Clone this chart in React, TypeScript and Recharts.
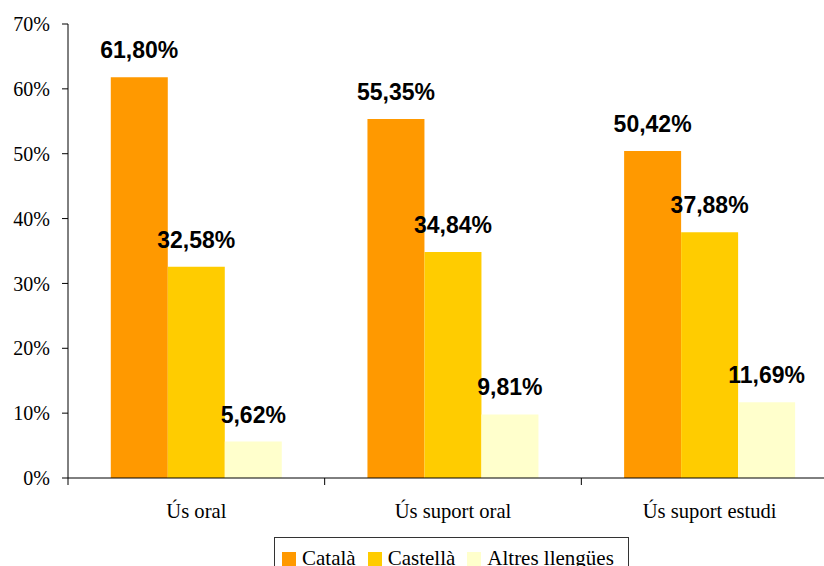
import React from 'react';
import { BarChart, Bar, XAxis, YAxis, LabelList, Legend } from 'recharts';

const categories = ['Ús oral', 'Ús suport oral', 'Ús suport estudi'];
const catala = [61.8, 55.35, 50.42];
const castella = [32.58, 34.84, 37.88];
const altres = [5.62, 9.81, 11.69];
const yTicks = [0, 10, 20, 30, 40, 50, 60, 70];
const seriesNames = ['Català', 'Castellà', 'Altres llengües'];
const seriesColors = ['#FF9900', '#FFCC00', '#FFFFCC'];

const data = categories.map((c, i) => ({
  name: c,
  catala: catala[i],
  castella: castella[i],
  altres: altres[i],
}));

const CHART_W = 838;
const CHART_H = 566;
const Y_AXIS_W = 68;
const BAND = (CHART_W - Y_AXIS_W) / categories.length;
const X_TICK_MARGIN = 25;

const SERIF = '"Liberation Serif", "Times New Roman", Times, serif';
const SANS = '"Liberation Sans", Arial, Helvetica, sans-serif';

const fmt = (v: any) => `${Number(v).toFixed(2).replace('.', ',')}%`;

const CategoryTick = (props: any) => {
  const { x, y, payload } = props;
  const axisY = y - X_TICK_MARGIN;
  const lx = x - BAND / 2;
  return (
    <g>
      <line x1={lx} x2={lx} y1={axisY} y2={axisY + 7} stroke="#000" strokeWidth={1} />
      <text
        x={x}
        y={y}
        dy="0.71em"
        textAnchor="middle"
        fill="#000"
        style={{ fontFamily: SERIF, fontSize: 20.6 }}
      >
        {payload.value}
      </text>
    </g>
  );
};

const LegendBox = () => (
  <div
    style={{
      border: '1px solid #333',
      background: '#fff',
      padding: '10px 14px 8px 7px',
      display: 'flex',
      alignItems: 'center',
      fontFamily: SERIF,
      fontSize: 21,
      lineHeight: '20px',
      color: '#000',
      whiteSpace: 'nowrap',
    }}
  >
    {seriesNames.map((n, i) => (
      <span key={n} style={{ display: 'flex', alignItems: 'center', marginRight: i < seriesNames.length - 1 ? 12 : 0 }}>
        <span style={{ display: 'inline-block', width: 14, height: 14, background: seriesColors[i], marginRight: 6, marginTop: 2 }} />
        <span>{n}</span>
      </span>
    ))}
  </div>
);

const labelStyle = { fontFamily: SANS, fontWeight: 'bold' as const, fontSize: 23, fill: '#000' };

export default function App() {
  return (
    <div style={{ position: 'absolute', left: 0, top: 0, width: 824, height: 566, overflow: 'hidden', background: '#fff' }}>
      <BarChart
        width={CHART_W}
        height={CHART_H}
        data={data}
        margin={{ top: 24, right: 0, bottom: 48, left: 0 }}
        barCategoryGap="16.67%"
        barGap={0}
      >
        <YAxis
          width={Y_AXIS_W}
          domain={[0, 70]}
          ticks={yTicks}
          interval={0}
          tickFormatter={(v: any) => `${v}%`}
          axisLine={{ stroke: '#000', strokeWidth: 1 }}
          tickLine={{ stroke: '#000', strokeWidth: 1 }}
          tickSize={6}
          tickMargin={12}
          tick={{ fill: '#000', fontFamily: SERIF, fontSize: 20 }}
        />
        <XAxis
          dataKey="name"
          height={40}
          axisLine={{ stroke: '#000', strokeWidth: 1 }}
          tickLine={false}
          tickSize={0}
          tickMargin={X_TICK_MARGIN}
          interval={0}
          tick={<CategoryTick />}
        />
        <Legend
          layout="horizontal"
          verticalAlign="middle"
          align="center"
          content={<LegendBox />}
          wrapperStyle={{ left: 274, top: 537, width: 'auto', height: 'auto' }}
        />
        <Bar dataKey="catala" name={seriesNames[0]} fill={seriesColors[0]} isAnimationActive={false}>
          <LabelList dataKey="catala" position="top" offset={19} formatter={fmt} style={labelStyle} />
        </Bar>
        <Bar dataKey="castella" name={seriesNames[1]} fill={seriesColors[1]} isAnimationActive={false}>
          <LabelList dataKey="castella" position="top" offset={19} formatter={fmt} style={labelStyle} />
        </Bar>
        <Bar dataKey="altres" name={seriesNames[2]} fill={seriesColors[2]} isAnimationActive={false}>
          <LabelList dataKey="altres" position="top" offset={19} formatter={fmt} style={labelStyle} />
        </Bar>
      </BarChart>
    </div>
  );
}
